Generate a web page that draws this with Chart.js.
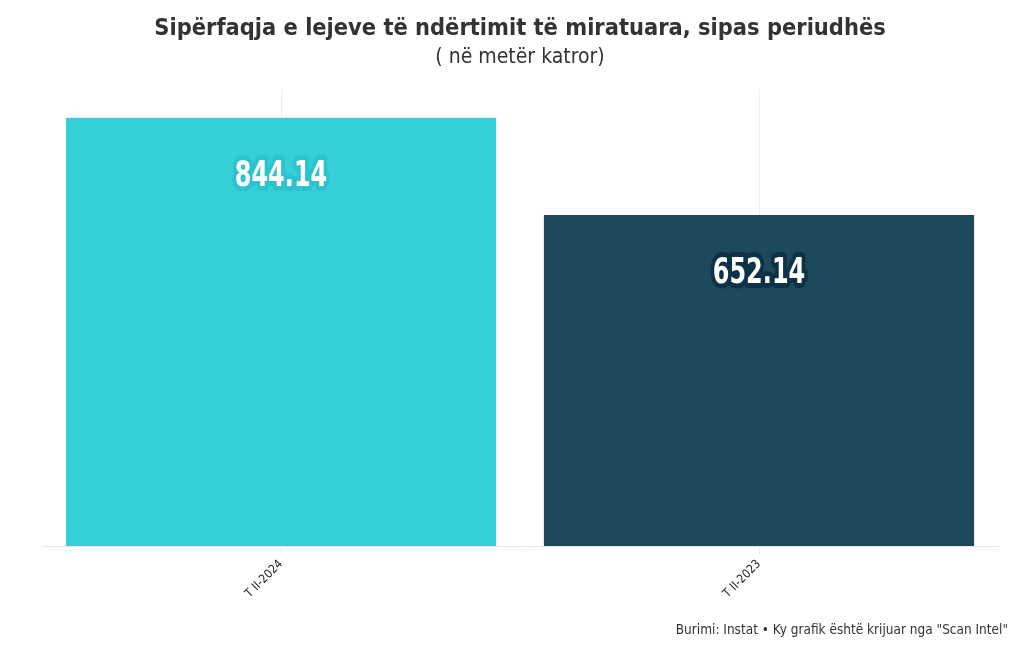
<!DOCTYPE html>
<html>
<head>
<meta charset="utf-8">
<script src="https://cdn.jsdelivr.net/npm/chart.js@4"></script>
<style>
    html, body { margin: 0; padding: 0; background: #ffffff; }
    #wrap { width: 1020px; height: 650px; }
</style>
</head>
<body>
<div id="wrap"><canvas id="areaChart"></canvas></div>
<script>
const categories = ['T II-2024', 'T II-2023'];
const areaValues = [844.14, 652.14];
const barColors = ['#35cfd8', '#1c495c'];
const labelGlow = ['#2bc3cd', '#0e3245'];

const FONT = '"DejaVu Sans Condensed", "Liberation Sans Narrow", "Roboto", sans-serif';

// value labels inside bars, white text with a glow in the bar colour
const valueLabels = {
    id: 'valueLabels',
    afterDatasetsDraw(chart) {
        const ctx = chart.ctx;
        const meta = chart.getDatasetMeta(0);
        meta.data.forEach(function (bar, i) {
            const y = bar.y + 59;
            const text = areaValues[i].toFixed(2);
            ctx.save();
            // squeeze horizontally to get the narrow look of the original
            ctx.translate(bar.x, y);
            ctx.scale(0.74, 1);
            ctx.font = 'bold 36px ' + FONT;
            ctx.textAlign = 'center';
            ctx.textBaseline = 'middle';
            ctx.lineJoin = 'round';
            ctx.strokeStyle = labelGlow[i];
            ctx.lineWidth = 10;
            ctx.strokeText(text, 0, 0);
            ctx.fillStyle = '#ffffff';
            ctx.fillText(text, 0, 0);
            ctx.restore();
        });
    }
};

// source note, bottom right
const sourceNote = {
    id: 'sourceNote',
    afterDraw(chart) {
        const ctx = chart.ctx;
        ctx.save();
        ctx.font = '13.5px ' + FONT;
        ctx.fillStyle = '#333333';
        ctx.textAlign = 'right';
        ctx.textBaseline = 'middle';
        ctx.fillText('Burimi: Instat \u2022 Ky grafik është krijuar nga "Scan Intel"', 1008, 630);
        ctx.restore();
    }
};

const ctx = document.getElementById('areaChart').getContext('2d');
new Chart(ctx, {
    type: 'bar',
    data: {
        labels: categories,
        datasets: [{
            data: areaValues,
            backgroundColor: barColors,
            borderWidth: 0,
            categoryPercentage: 0.9,
            barPercentage: 1.0
        }]
    },
    options: {
        responsive: true,
        maintainAspectRatio: false,
        animation: false,
        layout: {
            padding: { left: 42, right: 22, bottom: 46 }
        },
        scales: {
            x: {
                grid: {
                    offset: false,
                    color: '#eeeeee',
                    tickLength: 8
                },
                border: { color: '#e8e8e8' },
                ticks: {
                    minRotation: 45,
                    maxRotation: 45,
                    color: '#222222',
                    font: { family: FONT, size: 12 }
                }
            },
            y: {
                display: false,
                min: 0,
                max: 900
            }
        },
        plugins: {
            legend: { display: false },
            tooltip: { enabled: false },
            title: {
                display: true,
                text: 'Sipërfaqja e lejeve të ndërtimit të miratuara, sipas periudhës',
                color: '#333333',
                font: { family: FONT, size: 23.4, weight: 'bold' },
                padding: { top: 15, bottom: 2 }
            },
            subtitle: {
                display: true,
                text: '( në metër katror)',
                color: '#333333',
                font: { family: FONT, size: 21 },
                padding: { top: 0, bottom: 19 }
            }
        }
    },
    plugins: [valueLabels, sourceNote]
});
</script>
</body>
</html>
